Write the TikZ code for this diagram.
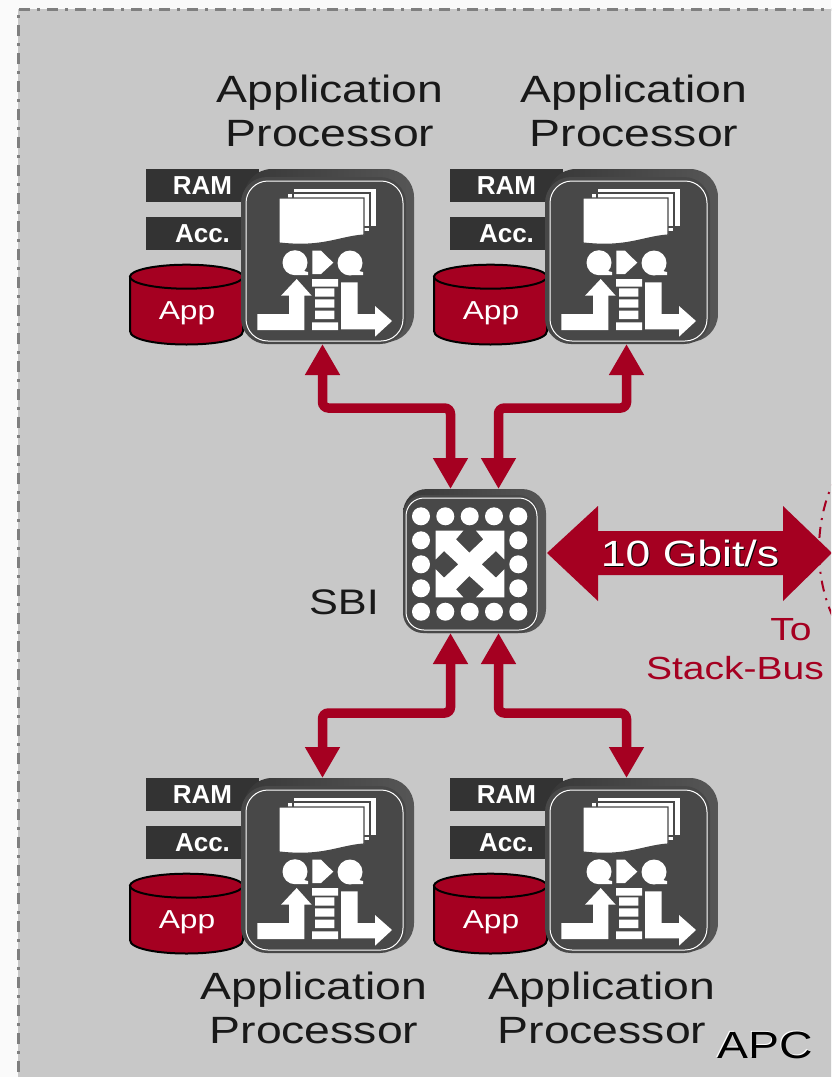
\documentclass[tikz,border=0pt]{standalone}
\usepackage{fontspec}
\setmainfont{Liberation Sans}
\newfontfamily\widefont[FakeStretch=1.22]{Liberation Sans}
\usetikzlibrary{arrows.meta}
\definecolor{busred}{HTML}{A50021}
\definecolor{panelgray}{HTML}{C8C8C8}
\definecolor{edgegray}{HTML}{7F7F7F}
\definecolor{bodygray}{HTML}{484848}
\definecolor{backdark}{HTML}{383838}
\definecolor{backlight}{HTML}{565656}
\definecolor{memgray}{HTML}{333333}
\definecolor{pagewhite}{HTML}{FAFAFA}

\tikzset{
	backplate/.style={rounded corners=#1,left color=backdark,right color=backlight,inner sep=0,outer sep=0},
	frontplate/.style={rounded corners=#1,fill=bodygray,inner sep=0,outer sep=0},
	memlabel/.style={fill=memgray,text=white,font=\fontsize{26}{30}\selectfont\bfseries,minimum width=113pt,minimum height=33pt,inner sep=0,outer sep=0},
	proclabel/.style={align=center,inner sep=0,text=black!90,font=\fontsize{38}{44}\selectfont\widefont},
	redlabel/.style={inner sep=0,text=busred,font=\fontsize{32}{36}\selectfont\widefont},
	busline/.style={busred,line width=9.5pt,rounded corners=6pt,{Triangle[length=31pt,width=33pt]}-{Triangle[length=31pt,width=33pt]}},
	appproc/.pic={
		\node[memlabel] (-ram) at (-120.5,-76.6) {RAM};
		\node[memlabel] (-acc) at (-120.5,-28.7) {Acc.};
		\filldraw[busred,draw=black,line width=2pt]
			(-193,14.7)--(-193,69) .. controls (-193,87) and (-80,87) .. (-80,69)--(-80,14.7)--cycle;
		\filldraw[busred,draw=black,line width=2pt]
			(-136.5,14.7) ellipse [x radius=56.5pt,y radius=12pt];
		\node[inner sep=0,text=white,font=\fontsize{26}{30}\selectfont\widefont] (-app) at (-136,51) {App};
		\node[backplate=28pt,minimum width=170pt,minimum height=173pt] (-back) at (6,-6.5) {};
		\node[frontplate=26pt,minimum width=165pt,minimum height=167pt] (-body) at (0.5,-1.5) {};
		\draw[white,line width=1pt,rounded corners=22pt]
			(-77,-81) rectangle (80,79);
		\filldraw[white,draw=bodygray,line width=1.2pt]
			(-30,-74)--(54,-74)--(54,-35)--(-30,-35)--cycle
			(-36,-69)--(47,-69)--(47,-30)--(-36,-30)--cycle;
		\filldraw[white,draw=bodygray,line width=1.2pt]
			(-44,-64)--(41,-64)--(41,-27) .. controls (15,-25) and (0,-14) .. (-44,-19)--cycle;
		\fill[white]
			(-28,0.7) circle (12.5pt)
			(27,1) circle (12.5pt)
			(-28,13.2)--(-15,13)--(-15,10)--(-19,9)--(-23,0)--cycle
			(27,13.2)--(40,13)--(40,10)--(36,9)--(32,1)--cycle
			(-10.7,-11.3)--(-2,-11.3)--(10.3,0.7)--(-2,12)--(-10.7,12)--cycle
			(-11,17) rectangle (15,24.7)
			(-8,26.3) rectangle (11.3,34.7)
			(-8,37.3) rectangle (11.3,45.7)
			(-8,48.7) rectangle (11.3,57)
			(-11,60.3) rectangle (15,68)
			(-65.7,68)--(-65.7,52)--(-34,52)--(-34,33.7)--(-42,33.7)--(-26.3,17)--(-11.3,33.7)--(-18.7,33.7)--(-18.7,68)--cycle
			(18,20.3)--(34.7,20.3)--(34.7,52)--(52,52)--(52,44)--(69,59)--(52,74.7)--(52,67.3)--(18,67.3)--cycle;
	}
}

\begin{document}
\begin{tikzpicture}[x=1pt,y=-1pt]
	\path[use as bounding box,clip] (0,0) rectangle (831,1077);
	\fill[pagewhite] (0,0) rectangle (831,1077);
	\fill[panelgray] (18,9) rectangle (860,1100);
	\draw[edgegray,line width=3pt,dash pattern=on 11pt off 7pt on 3pt off 7pt]
		(18,1100)--(18,9)--(860,9);

	\node[proclabel] (labelA) at (330,111) {Application\\Processor};
	\node[proclabel] (labelB) at (634,111) {Application\\Processor};
	\node[proclabel] (labelC) at (314,1008) {Application\\Processor};
	\node[proclabel] (labelD) at (602,1008) {Application\\Processor};

	\pic (procA) at (323,262) {appproc};
	\pic (procB) at (627,262) {appproc};
	\pic (procC) at (323,871) {appproc};
	\pic (procD) at (627,871) {appproc};

	\node[backplate=24pt,minimum width=143pt,minimum height=144pt] (sbi) at (474.5,561) {};
	\node[frontplate=20pt,minimum width=135pt,minimum height=138pt] (sbifront) at (470.5,564) {};
	\draw[white,line width=1pt,rounded corners=18pt]
		(406,498) rectangle (537,630);
	\foreach \cx in {421,445.3,469.7,494,518.3}
		\fill[white] (\cx,516.3) circle (9pt) (\cx,611.7) circle (9pt);
	\foreach \cy in {540.3,564.3,588.3}
		\fill[white] (421,\cy) circle (9pt) (518.3,\cy) circle (9pt);
	\fill[white]
		(435.7,530.7)--(463.3,530.7)--(456,539.3)--(469.3,552.7)--(483.3,539.3)--(476,530.7)
		--(504.3,530.7)--(504.3,559.3)--(496,551)--(481.7,564.3)--(496,577.7)--(504.3,569.3)
		--(504.3,597.3)--(476,597.3)--(484,589.3)--(469.3,576)--(456,589.3)--(463.3,597.3)
		--(435.7,597.3)--(435.7,569.3)--(444,577.7)--(458.3,564.3)--(444,551)--(435.7,559.3)--cycle;
	\node[inner sep=0,text=black!90,font=\fontsize{35.5}{42}\selectfont\widefont] (sbilabel) at (344,602) {SBI};

	\draw[busline] ([xshift=-1pt]procA-body.south) -- ([xshift=-1pt]procA-body.south |- 0,408) -| ([xshift=-24pt]sbi.north);
	\draw[busline] ([xshift=-1pt]procB-body.south) -- ([xshift=-1pt]procB-body.south |- 0,408) -| ([xshift=24pt]sbi.north);
	\draw[busline] ([xshift=-1pt,yshift=8pt]procC-body.north) -- ([xshift=-1pt]procC-body.north |- 0,713) -| ([xshift=-24pt]sbi.south);
	\draw[busline] ([xshift=-1pt,yshift=8pt]procD-body.north) -- ([xshift=-1pt]procD-body.north |- 0,713) -| ([xshift=24pt]sbi.south);

	\draw[busred,line width=2pt,dash pattern=on 11pt off 7pt on 2pt off 7pt]
		(901,550) ellipse [x radius=82pt,y radius=120pt];
	\fill[busred]
		(547,553)--(598,506)--(598,531)--(783,531)--(783,506)--(832,553)--(783,601)--(783,575)--(598,575)--(598,601)--cycle;
	\node[inner sep=0,text=black,font=\fontsize{36.5}{42}\selectfont\widefont] (bwshadow) at (691,554) {10 Gbit/s};
	\node[inner sep=0,text=white,font=\fontsize{36.5}{42}\selectfont\widefont] (bwlabel) at (690,553) {10 Gbit/s};
	\node[redlabel] (tolabel) at (791,630) {To};
	\node[redlabel] (stacklabel) at (735,668) {Stack-Bus};

	\node[inner sep=0,text=white,font=\fontsize{38}{44}\selectfont\widefont] (apcshadow) at (764,1044) {APC};
	\node[inner sep=0,text=black,font=\fontsize{38}{44}\selectfont\widefont] (apclabel) at (765,1045) {APC};
\end{tikzpicture}
\end{document}
